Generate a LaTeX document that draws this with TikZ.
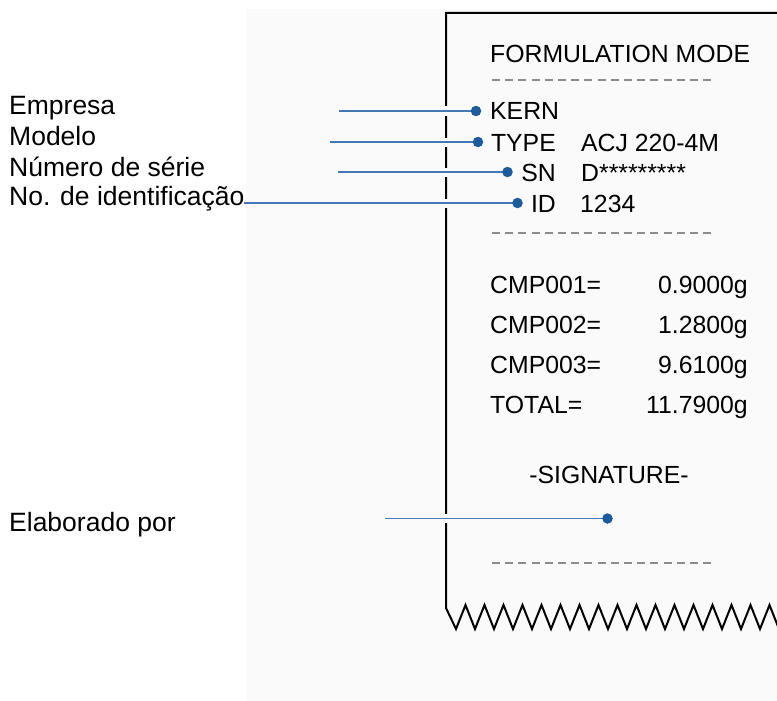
\documentclass[tikz,border=0pt]{standalone}
\usepackage{fontspec}
\setmainfont{Liberation Sans}
\definecolor{panel}{HTML}{FAFAFA}
\definecolor{dotblue}{HTML}{1C5C9C}
\definecolor{lineblue}{HTML}{4478B4}
\definecolor{dashgray}{HTML}{8C8C8C}
\begin{document}
\begin{tikzpicture}[x=1pt,y=-1pt,
  rtext/.style={inner sep=0pt, font=\fontsize{24.8}{29}\selectfont},
  ltext/.style={inner sep=0pt, font=\fontsize{26.5}{31}\selectfont, anchor=base west},
  bdot/.style={circle, fill=dotblue, inner sep=0pt, minimum size=10.5pt},
  lead/.style={draw=lineblue, line width=1.6pt, preaction={draw=panel, line width=9pt}},
  sep/.style={draw=dashgray, line width=1.3pt, dash pattern=on 8pt off 5.2pt},
  paper/.style={draw=black, line width=2pt, line join=miter}]
\useasboundingbox (0,0) rectangle (777,701);
\fill[panel] (246,9) rectangle (777,701);
% receipt outline
\begin{scope}
\clip (0,0) rectangle (777,701);
\draw[paper] (790,13) -- (446,13) -- (446,608)
  \foreach \i in {0,...,17} { -- ({456+19*\i},629) -- ({465.5+19*\i},605) };
\end{scope}
% receipt text
\node[rtext, anchor=base west] (title) at (490,63) {FORMULATION MODE};
\draw[sep] (492,80) -- (715,80);
\node[rtext, anchor=base west] (kern) at (490,120) {KERN};
\node[rtext, anchor=base east] (type) at (556,151) {TYPE};
\node[rtext, anchor=base west] (typev) at (581,151) {ACJ 220-4M};
\node[rtext, anchor=base east] (sn) at (556,181) {SN};
\node[rtext, anchor=base west] (snv) at (581,181) {D*********};
\node[rtext, anchor=base east] (id) at (556,212) {ID};
\node[rtext, anchor=base west] (idv) at (580,212) {1234};
\draw[sep] (492,233) -- (715,233);
\node[rtext, anchor=base west] (c1) at (490,293) {CMP001=};
\node[rtext, anchor=base east] (v1) at (748,293) {0.9000g};
\node[rtext, anchor=base west] (c2) at (490,333) {CMP002=};
\node[rtext, anchor=base east] (v2) at (748,333) {1.2800g};
\node[rtext, anchor=base west] (c3) at (490,373) {CMP003=};
\node[rtext, anchor=base east] (v3) at (748,373) {9.6100g};
\node[rtext, anchor=base west] (c4) at (490,413) {TOTAL=};
\node[rtext, anchor=base east] (v4) at (748,413) {11.7900g};
\node[rtext, anchor=base] (sig) at (609,483) {-SIGNATURE-};
\draw[sep] (492,563) -- (715,563);
% labels
\node[ltext] (l1) at (9,114.5) {Empresa};
\node[ltext] (l2) at (9,145) {Modelo};
\node[ltext] (l3) at (9,176) {Número de série};
\node[ltext] (l4) at (9,205) {No. de identificação};
\node[ltext] (l5) at (9,531) {Elaborado por};
% leader start points
\coordinate (s1) at (339,111);
\coordinate (s2) at (330,142);
\coordinate (s3) at (338,172);
\coordinate (s4) at (244,203);
\coordinate (s5) at (385,518.5);
% dots
\coordinate (d1) at (476,111);
\coordinate (d2) at (478,142);
\coordinate (d3) at (507.5,172);
\coordinate (d4) at (517.5,203);
\coordinate (d5) at (607.5,518.5);
\draw[lead] (s1) -- (d1);
\draw[lead] (s2) -- (d2);
\draw[lead] (s3) -- (d3);
\draw[lead] (s4) -- (d4);
\draw[lead] (s5) -- (d5);
\node[bdot] (p1) at (d1) {};
\node[bdot] (p2) at (d2) {};
\node[bdot] (p3) at (d3) {};
\node[bdot] (p4) at (d4) {};
\node[bdot] (p5) at (d5) {};
\end{tikzpicture}
\end{document}
